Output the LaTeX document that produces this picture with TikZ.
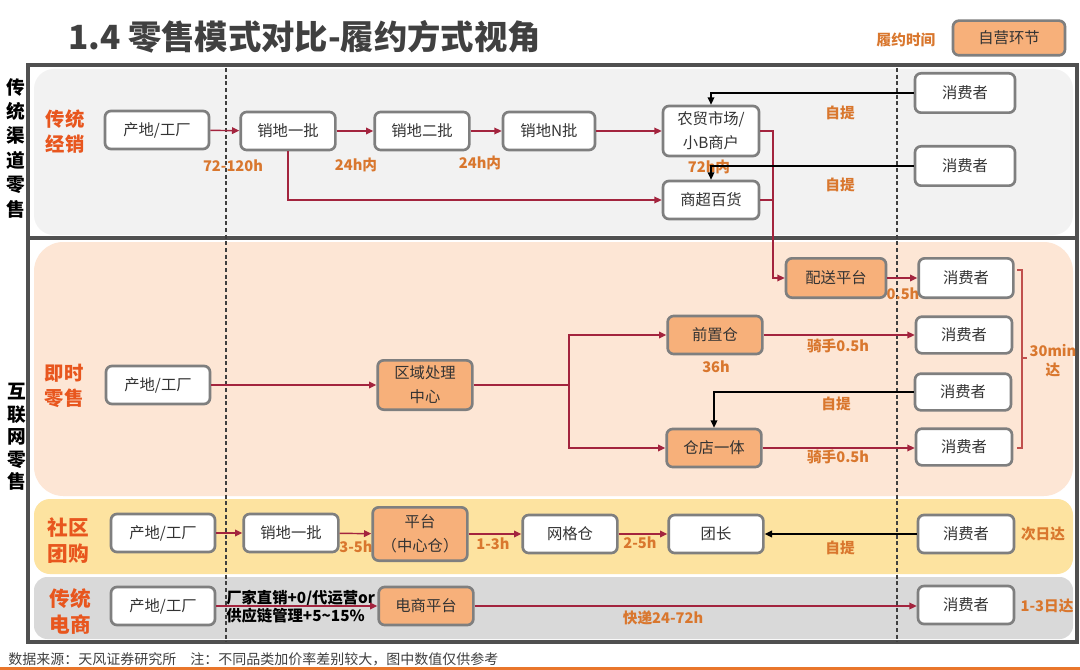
\documentclass[tikz,border=0pt]{standalone}
\usepackage{fontspec}
\setmainfont{Noto Sans CJK SC}
\usetikzlibrary{arrows.meta,calc}
\definecolor{nodeborder}{HTML}{7F7F7F}
\definecolor{boxtext}{HTML}{333333}
\definecolor{boxorange}{HTML}{F7B07A}
\definecolor{flowred}{HTML}{A3243E}
\definecolor{timeorange}{HTML}{D9772E}
\definecolor{secred}{HTML}{E8561E}
\definecolor{titlegray}{HTML}{404040}
\definecolor{framegray}{HTML}{505050}
\definecolor{topbg}{HTML}{F2F2F2}
\definecolor{peachbg}{HTML}{FDE6D5}
\definecolor{yellowbg}{HTML}{FDE3A0}
\definecolor{graybg}{HTML}{D9D9D9}
\definecolor{bracketred}{HTML}{C0504D}
\definecolor{footline}{HTML}{E9762B}
\begin{document}
\begin{tikzpicture}[x=0.75pt,y=-0.75pt,
  box/.style={draw=nodeborder, line width=2pt, rounded corners=4.5pt, fill=white,
    minimum width=71pt, minimum height=28.5pt, inner sep=1pt, align=center,
    text=boxtext, font=\fontsize{11.5}{18}\selectfont},
  obox/.style={box, fill=boxorange},
  flow/.style={draw=flowred, line width=1.1pt, -{Triangle[length=5.5pt,width=5pt]}},
  flowline/.style={draw=flowred, line width=1.1pt},
  pick/.style={draw=black, line width=1.1pt, -{Triangle[length=5.5pt,width=5pt]}},
  tlab/.style={text=timeorange, font=\fontsize{11}{13}\selectfont\bfseries, inner sep=0pt},
  seclab/.style={text=secred, font=\fontsize{14.5}{18.8}\selectfont\bfseries, align=center, inner sep=0pt},
  seclabb/.style={text=secred, font=\fontsize{15.5}{19.5}\selectfont\bfseries, align=center, inner sep=0pt},
  framebox/.style={draw=framegray, line width=3pt},
  vdash/.style={draw=titlegray, line width=0.8pt, dash pattern=on 3pt off 2pt}
]
\useasboundingbox (0,0) rectangle (1080,670);
\fill[white] (0,0) rectangle (1080,670);

% backgrounds
\fill[topbg, rounded corners=15pt] (34,69) rectangle (1073,235);
\fill[peachbg, rounded corners=22pt] (34,242) rectangle (1073,496);
\fill[yellowbg, rounded corners=12pt] (34,499) rectangle (1073,574);
\fill[graybg, rounded corners=10pt] (34,577) rectangle (1073,639);

% frames
\draw[framebox] (28,65) rectangle (1077,238);
\draw[framebox] (28,238) rectangle (1077,642);

% dashed time lines
\draw[vdash] (226,68) -- (226,642);
\draw[vdash] (897,68) -- (897,642);

% title and legend
\node[anchor=west, inner sep=0pt, text=titlegray, font=\fontsize{25}{28}\selectfont\bfseries] (title) at (68,37) {1.4 零售模式对比-履约方式视角};
\node[tlab] (leg1) at (906,40) {履约时间};
\node[obox, minimum width=84pt, minimum height=26pt] (leg2) at (1009,38) {自营环节};

% left vertical labels
\node[font=\fontsize{14}{18.3}\selectfont\bfseries, align=center, inner sep=0pt] (v1) at (16,148) {传\\统\\渠\\道\\零\\售};
\node[font=\fontsize{14}{16.9}\selectfont\bfseries, align=center, inner sep=0pt] (v2) at (17,437) {互\\联\\网\\零\\售};

% section labels
\node[seclab] (s1) at (65,132) {传统\\经销};
\node[seclab] (s2) at (64,386) {即时\\零售};
\node[seclabb] (s3) at (68,541) {社区\\团购};
\node[seclabb] (s4) at (70,611) {传统\\电商};

% time labels
\node[tlab] (l72) at (233,166) {72-120h};
\node[tlab] (l24a) at (356,165) {24h内};
\node[tlab] (l24b) at (480,163) {24h内};
\node[tlab] (l72n) at (709,167) {72h内};
\node[tlab] (zt1) at (840,113) {自提};
\node[tlab] (zt2) at (840,185) {自提};
\node[tlab] (l05) at (903,294) {0.5h};
\node[tlab] (lqs1) at (838,346) {骑手0.5h};
\node[tlab] (l36) at (716,367) {36h};
\node[tlab] (zt3) at (836,404) {自提};
\node[tlab] (lqs2) at (838,457) {骑手0.5h};
\node[tlab, align=center, font=\fontsize{11}{14.3}\selectfont\bfseries] (l30) at (1053,361) {30min\\达};
\node[tlab] (l35) at (356,547) {3-5h};
\node[tlab] (l13) at (493,544) {1-3h};
\node[tlab] (l25) at (640,543) {2-5h};
\node[tlab] (zt4) at (840,548) {自提};
\node[tlab] (lcr) at (1043,534) {次日达};
\node[tlab] (lkd) at (663,618) {快递24-72h};
\node[tlab] (l13d) at (1047,606) {1-3日达};

% traditional distribution
\node[box, minimum width=78pt] (t1) at (157,130) {产地/工厂};
\node[box] (t2) at (288,131) {销地一批};
\node[box] (t3) at (422,131) {销地二批};
\node[box, minimum width=69pt] (t4) at (549,131) {销地N批};
\node[box, minimum width=72pt, minimum height=37.5pt] (t5) at (711,131) {农贸市场/\\小B商户};
\node[box, minimum width=72pt] (t6) at (711,200) {商超百货};
\node[box, minimum width=75pt, minimum height=29.5pt] (tc1) at (965,93) {消费者};
\node[box, minimum width=75pt, minimum height=29.5pt] (tc2) at (965,166) {消费者};

% instant retail
\node[obox, minimum width=75pt, minimum height=29.5pt] (p1) at (836,278) {配送平台};
\node[box, minimum width=71pt, minimum height=29.5pt] (ic1) at (966,278) {消费者};
\node[box, minimum width=78pt] (i1) at (158,385) {产地/工厂};
\node[obox, minimum height=37pt] (i2) at (425,385) {区域处理\\中心};
\node[obox] (i3) at (715,335) {前置仓};
\node[obox] (i4) at (714,448) {仓店一体};
\node[box, minimum width=72pt, minimum height=27.5pt] (ic2) at (964,335) {消费者};
\node[box, minimum width=72pt, minimum height=27.5pt] (ic3) at (963,392) {消费者};
\node[box, minimum width=72pt, minimum height=27.5pt] (ic4) at (964,447) {消费者};

% community group buying
\node[box, minimum width=78pt] (g1) at (163,533) {产地/工厂};
\node[box] (g2) at (291,533) {销地一批};
\node[obox, minimum height=40pt] (g3) at (420,534) {平台\\（中心仓）};
\node[box] (g4) at (570,534) {网格仓};
\node[box] (g5) at (716,534) {团长};
\node[box, minimum width=72pt] (gc) at (966,534) {消费者};

% e-commerce
\node[box, minimum width=78pt] (e1) at (163,606) {产地/工厂};
\node[obox] (e2) at (426,606) {电商平台};
\node[box, minimum width=72pt] (ec) at (966,605) {消费者};
\node[anchor=west, align=left, inner sep=0pt, font=\fontsize{11.5}{13.5}\selectfont\bfseries] (lcj) at (226,607) {厂家直销+0/代运营or\\供应链管理+5\textasciitilde15\%};

% junction coordinates
\coordinate (jt) at (773,131);
\coordinate (jx) at (569,385);

% connectors: traditional
\draw[flow] (t1) -- (t2);
\draw[flow] (t2) -- (t3);
\draw[flow] (t3) -- (t4);
\draw[flow] (t4) -- (t5);
\draw[flow] (t2.south) |- (t6.west);
\draw[flow] (t5.east) -- (jt) |- (p1.west);
\draw[flowline] (t6.east) -- (t6.east -| jt);
\draw[pick] (tc1.west) -| (t5.north);
\draw[pick] (tc2.west) -| (t6.north);

% connectors: instant
\draw[flow] (p1) -- (ic1);
\draw[flow] (i1) -- (i2);
\draw[flow] (i2.east) -- (jx) |- (i3.west);
\draw[flow] (jx) |- (i4.west);
\draw[flow] (i3) -- (ic2.west |- i3);
\draw[flow] (i4) -- (ic4.west |- i4);
\draw[pick] (ic3.west) -| (i4.north);
\draw[bracketred, line width=0.8pt] (1017,270) -- (1022,270) -- (1022,448) -- (1017,448);
\draw[bracketred, line width=0.8pt] (1022,358) -- (1027,358);

% connectors: community
\draw[flow] (g1) -- (g2);
\draw[flow] (g2) -- (g3);
\draw[flow] (g3) -- (g4);
\draw[flow] (g4) -- (g5);
\draw[pick] (gc) -- (g5);

% connectors: e-commerce
\draw[flow] (e1) -- (e2);
\draw[flow] (e2) -- (ec.west |- e2);

% footer
\node[anchor=west, inner sep=0pt, text=titlegray, font=\fontsize{10.5}{12}\selectfont] (foot) at (8,659) {数据来源：天风证券研究所\quad 注：不同品类加价率差别较大，图中数值仅供参考};
\draw[footline, line width=2.2pt] (0,668.5) -- (1080,668.5);
\end{tikzpicture}
\end{document}
